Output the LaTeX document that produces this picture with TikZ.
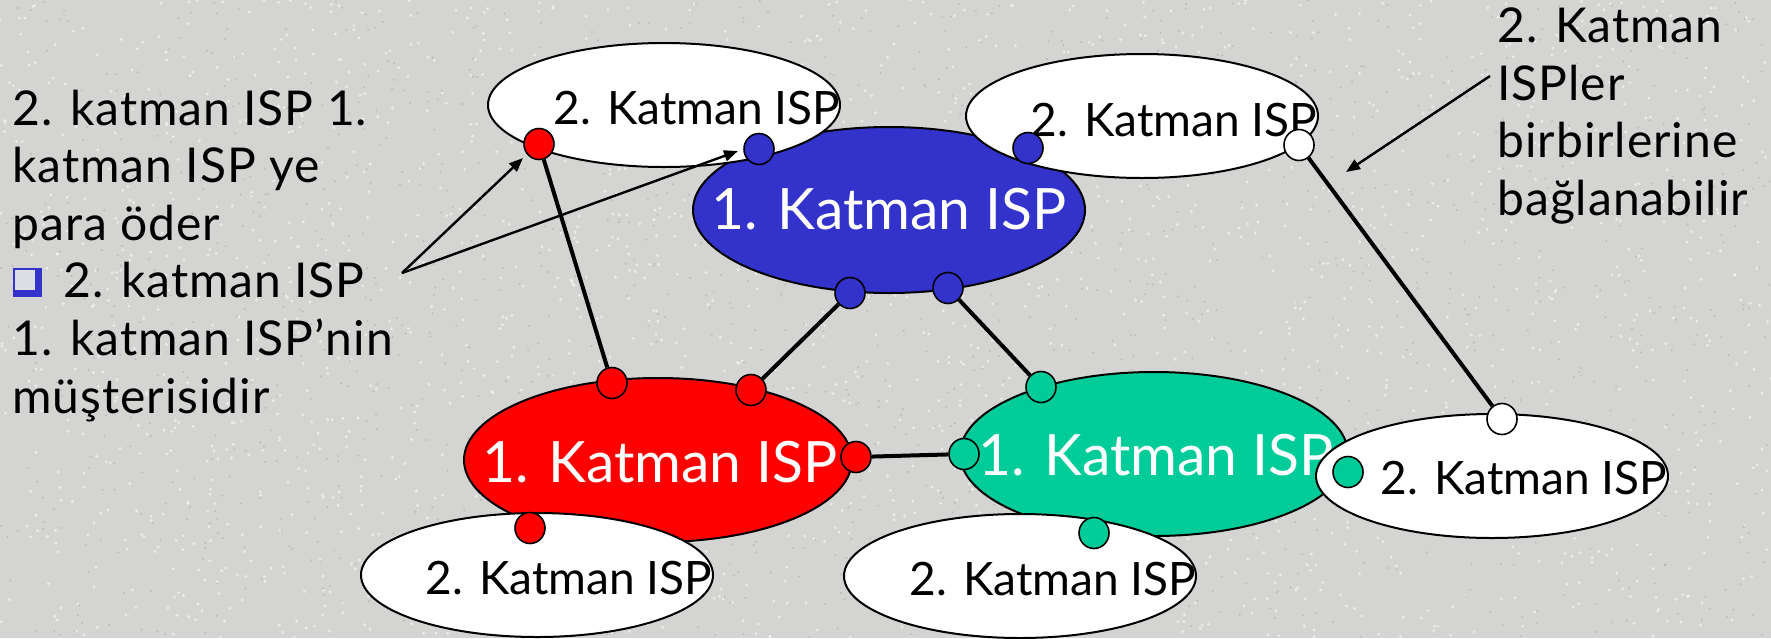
\documentclass[tikz,border=0pt]{standalone}
\usepackage{fontspec}
\setmainfont{Lato}
\newfontfamily\notefont{Lato}[LetterSpace=2]
\usetikzlibrary{shapes.geometric,arrows.meta}
\definecolor{bg}{RGB}{212,212,210}
\definecolor{ispblue}{RGB}{51,51,204}
\definecolor{ispred}{RGB}{255,0,0}
\definecolor{ispgreen}{RGB}{0,204,153}
\definecolor{bulletface}{RGB}{222,222,230}

\begin{document}
\begin{tikzpicture}[x=0.5pt,y=-0.5pt,
  tierone/.style={ellipse, draw=black, line width=1pt, minimum width=194pt,
                  minimum height=82pt, inner sep=0pt},
  tiertwo/.style={ellipse, draw=black, fill=white, line width=1pt,
                  minimum width=176pt, minimum height=62pt, inner sep=0pt},
  biglabel/.style={text=white, inner sep=0pt, font=\fontsize{28.5}{30}\selectfont},
  smalllabel/.style={inner sep=0pt, font=\fontsize{23}{25}\selectfont},
  port/.style={ellipse, draw=black, line width=0.8pt, minimum width=15pt,
               minimum height=15.5pt, inner sep=0pt},
  link/.style={line width=2pt},
  callout/.style={line width=1.2pt, -{Triangle[length=7pt,width=5.5pt]}},
  note/.style={anchor=base west, inner sep=0pt, font=\notefont\fontsize{24}{28}\selectfont}
]
% canvas with a light granite grain
\useasboundingbox (0,0) rectangle (1771,638);
\fill[bg] (0,0) rectangle (1771,638);
\pgfmathsetseed{4242}
\foreach \i in {1,...,2200} {
  \fill[white, opacity=0.55] ({rnd*1771},{rnd*638}) circle (1.6);
}
\foreach \i in {1,...,1400} {
  \fill[black!45, opacity=0.35] ({rnd*1771},{rnd*638}) circle (1.1);
}

% tier-1 providers
\node[tierone, fill=ispblue, minimum width=196pt, minimum height=83pt] (t1top) at (889,210) {};
\node[tierone, fill=ispred]   (t1left)  at (658,460) {};
\node[tierone, fill=ispgreen] (t1right) at (1154,454) {};
\node[biglabel] at (889,209)  {1. Katman ISP};
\node[biglabel] at (660,462)  {1. Katman ISP};
\node[biglabel] at (1156,455) {1. Katman ISP};

% tier-2 providers
\node[tiertwo] (t2a) at (664,105)  {};
\node[tiertwo] (t2b) at (1142,116) {};
\node[tiertwo] (t2c) at (537,575)  {};
\node[tiertwo] (t2d) at (1020,576) {};
\node[tiertwo] (t2e) at (1492,476) {};
\node[smalllabel] at (697,108)  {2. Katman ISP};
\node[smalllabel] at (1174,120) {2. Katman ISP};
\node[smalllabel] at (569,578)  {2. Katman ISP};
\node[smalllabel] at (1053,579) {2. Katman ISP};
\node[smalllabel] at (1524,478) {2. Katman ISP};

% router ports
\node[port, fill=ispred]   (pa1) at (539,144) {};
\node[port, fill=ispblue]  (pa2) at (759,149) {};
\node[port, fill=ispblue]  (pb1) at (1028,148) {};
\node[port, fill=white]    (pb2) at (1299,145) {};
\node[port, fill=ispblue]  (pt1) at (850,293) {};
\node[port, fill=ispblue]  (pt2) at (948,288) {};
\node[port, fill=ispred]   (pl1) at (612,383) {};
\node[port, fill=ispred]   (pl2) at (751,390) {};
\node[port, fill=ispred]   (pl3) at (856,457) {};
\node[port, fill=ispred]   (pl4) at (530,528) {};
\node[port, fill=ispgreen] (pr1) at (1041,387) {};
\node[port, fill=ispgreen] (pr2) at (964,454) {};
\node[port, fill=ispgreen] (pr3) at (1094,533) {};
\node[port, fill=ispgreen] (pr4) at (1348,472) {};
\node[port, fill=white]    (pe1) at (1502,419) {};

% links
\draw[link] (pa1) -- (pl1);
\draw[link] (pt1) -- (pl2);
\draw[link] (pt2) -- (pr1);
\draw[link] (pl3) -- (pr2);
\draw[link] (pb2) -- (pe1);

% left note
\node[note] at (12,125) {2. katman ISP 1.};
\node[note] at (12,182) {katman ISP ye};
\node[note] at (12,240) {para öder};
\fill[ispblue] (13,268) rectangle (42,297);
\fill[bulletface] (15,270) rectangle (35,290);
\node[note] at (63,297) {2. katman ISP};
\node[note] at (12,355) {1. katman ISP’nin};
\node[note] at (12,413) {müşterisidir};

% right note
\node[note] at (1497,42)  {2. Katman};
\node[note] at (1497,100) {ISPler};
\node[note] at (1497,157) {birbirlerine};
\node[note] at (1497,215) {bağlanabilir};

% callout arrows
\coordinate (fork)  at (402,273);
\coordinate (tipA)  at (523,158);
\coordinate (tipB)  at (738,151);
\coordinate (noteR) at (1490,76);
\coordinate (tipC)  at (1346,172);
\draw[callout] (fork) -- (tipA);
\draw[callout] (fork) -- (tipB);
\draw[callout] (noteR) -- (tipC);
\end{tikzpicture}
\end{document}
